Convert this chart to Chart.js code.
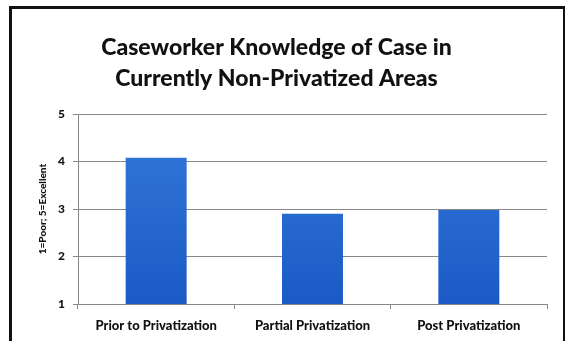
<!DOCTYPE html>
<html>
<head>
<meta charset="utf-8">
<script src="https://cdn.jsdelivr.net/npm/chart.js@4.4.0/dist/chart.umd.min.js"></script>
<style>
  body { margin: 0; background: #fff; }
  #frame { position: absolute; left: 9px; top: 6px; width: 551px; height: 345px; border: 3px solid #111; }
  #wrap { position: absolute; left: 0; top: 0; width: 565px; height: 341px; }
</style>
</head>
<body>
<div id="frame"></div>
<div id="wrap"><canvas id="myChart" width="565" height="341"></canvas></div>
<script>
// data
const categories = ['Prior to Privatization', 'Partial Privatization', 'Post Privatization'];
const ratings = [4.08, 2.9, 2.98];
const yTicks = [1, 2, 3, 4, 5];

const font = 'Lato, "DejaVu Sans", sans-serif';

const ctx = document.getElementById('myChart');

function barFill(context) {
  const chart = context.chart;
  const area = chart.chartArea;
  if (!area) return '#2a6bd2';
  const g = chart.ctx.createLinearGradient(0, area.top, 0, area.bottom);
  g.addColorStop(0, '#3579da');
  g.addColorStop(1, '#1b5ac6');
  return g;
}

new Chart(ctx, {
  type: 'bar',
  data: {
    labels: categories,
    datasets: [{
      data: ratings,
      backgroundColor: barFill,
      borderWidth: 0,
      barPercentage: 0.39,
      categoryPercentage: 1.0
    }]
  },
  options: {
    responsive: false,
    animation: false,
    layout: { padding: { left: 6, right: 18, top: 0, bottom: 0 } },
    plugins: {
      legend: { display: false },
      tooltip: { enabled: false },
      title: {
        display: true,
        text: ['Caseworker Knowledge of Case in', 'Currently Non-Privatized Areas'],
        color: '#111',
        font: { family: font, size: 23, weight: '900', lineHeight: 1.35 },
        padding: { top: 32, bottom: 20 }
      }
    },
    scales: {
      x: {
        grid: { display: true, drawOnChartArea: false, drawTicks: true, tickLength: 5, color: '#888', offset: true },
        border: { color: '#888', width: 1 },
        ticks: { color: '#111', font: { family: font, size: 13, weight: '900' }, padding: 9, maxRotation: 0 },
        afterFit: function(scale) { scale.height = 37; }
      },
      y: {
        min: 1,
        max: 5,
        afterBuildTicks: function(scale) { scale.ticks = yTicks.map(v => ({ value: v })); },
        grid: { color: '#888', lineWidth: 1, tickLength: 5 },
        border: { color: '#888', width: 1 },
        ticks: { color: '#111', font: { family: font, size: 12, weight: '900' }, padding: 8 },
        title: {
          display: true,
          text: '1=Poor; 5=Excellent',
          color: '#111',
          font: { family: font, size: 10, weight: '900' },
          padding: { top: 31, bottom: 0 }
        },
        afterFit: function(scale) { scale.width = 72; }
      }
    }
  }
});
</script>
</body>
</html>
